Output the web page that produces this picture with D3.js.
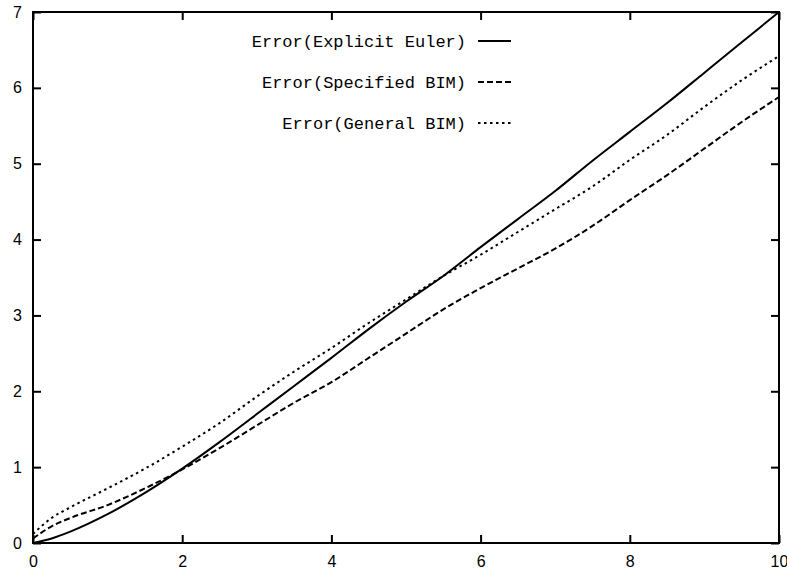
<!DOCTYPE html>
<html>
<head>
<meta charset="utf-8">
<script src="https://cdn.jsdelivr.net/npm/d3@7"></script>
<style>
  body { margin: 0; background: #fff; }
  .tick text { font-family: "Liberation Sans", Arial, sans-serif; font-size: 16px; fill: #000; }
  .tick line { stroke: #000; stroke-width: 2px; }
  .domain { display: none; }
  .key text { font-family: "Liberation Mono", "Courier New", monospace; font-size: 17px; fill: #000; }
</style>
</head>
<body>
<svg id="chart" width="787" height="574"></svg>
<script>
// values
const xs = [0, 0.25, 0.5, 1, 1.5, 2, 2.5, 3, 3.5, 4, 4.5, 5, 5.5, 6, 6.5, 7, 7.5, 8, 8.5, 9, 9.5, 10]
const eulerErr = [0, 0.06, 0.15, 0.38, 0.66, 0.98, 1.33, 1.7, 2.07, 2.44, 2.82, 3.18, 3.52, 3.9, 4.27, 4.64, 5.04, 5.42, 5.8, 6.2, 6.6, 7.0]
const specifiedErr = [0.06, 0.22, 0.33, 0.5, 0.72, 0.97, 1.25, 1.55, 1.85, 2.12, 2.44, 2.76, 3.08, 3.36, 3.62, 3.88, 4.18, 4.52, 4.85, 5.2, 5.55, 5.88]
const generalErr = [0.12, 0.33, 0.47, 0.72, 0.98, 1.27, 1.58, 1.93, 2.26, 2.57, 2.9, 3.21, 3.52, 3.8, 4.1, 4.4, 4.7, 5.05, 5.38, 5.75, 6.1, 6.42]

const seriesNames = ["Error(Explicit Euler)", "Error(Specified BIM)", "Error(General BIM)"]
const seriesValues = [eulerErr, specifiedErr, generalErr]
const dashes = [null, "6,3", "2.5,3.5"]

const xTicks = [0, 2, 4, 6, 8, 10]
const yTicks = [0, 1, 2, 3, 4, 5, 6, 7]

const svg = d3.select("#chart")

const x = d3.scaleLinear().domain([0, 10]).range([33, 779])
const y = d3.scaleLinear().domain([0, 7]).range([543, 12])

// frame
svg.append("rect")
  .attr("x", x(0))
  .attr("y", y(7))
  .attr("width", x(10) - x(0))
  .attr("height", y(0) - y(7))
  .attr("fill", "none")
  .attr("stroke", "#000")
  .attr("stroke-width", 2)

// ticks point inward on all four sides
svg.append("g")
  .attr("transform", `translate(0,${y(0)})`)
  .call(d3.axisBottom(x).tickValues(xTicks).tickFormat(d3.format("d")).tickSizeInner(-8).tickSizeOuter(0).tickPadding(13))

svg.append("g")
  .attr("transform", `translate(0,${y(7)})`)
  .call(d3.axisTop(x).tickValues(xTicks).tickFormat("").tickSizeInner(-8).tickSizeOuter(0))

svg.append("g")
  .attr("transform", `translate(${x(0)},0)`)
  .call(d3.axisLeft(y).tickValues(yTicks).tickFormat(d3.format("d")).tickSizeInner(-8).tickSizeOuter(0).tickPadding(11))

svg.append("g")
  .attr("transform", `translate(${x(10)},0)`)
  .call(d3.axisRight(y).tickValues(yTicks).tickFormat("").tickSizeInner(-8).tickSizeOuter(0))

const line = d3.line()
  .x(d => x(d[0]))
  .y(d => y(d[1]))
  .curve(d3.curveMonotoneX)

svg.append("g")
  .selectAll("path")
  .data(seriesValues)
  .join("path")
  .attr("d", vals => line(xs.map((v, i) => [v, vals[i]])))
  .attr("fill", "none")
  .attr("stroke", "#000")
  .attr("stroke-width", 2)
  .attr("stroke-dasharray", (d, i) => dashes[i])

// key
const keyRows = [41, 82, 123]
const key = svg.append("g").attr("class", "key")

key.selectAll("text")
  .data(seriesNames)
  .join("text")
  .attr("x", 466)
  .attr("y", (d, i) => keyRows[i])
  .attr("dy", "0.35em")
  .attr("text-anchor", "end")
  .text(d => d)

key.selectAll("line")
  .data(seriesNames)
  .join("line")
  .attr("x1", 478)
  .attr("x2", 511)
  .attr("y1", (d, i) => keyRows[i])
  .attr("y2", (d, i) => keyRows[i])
  .attr("stroke", "#000")
  .attr("stroke-width", 2)
  .attr("stroke-dasharray", (d, i) => dashes[i])
</script>
</body>
</html>
